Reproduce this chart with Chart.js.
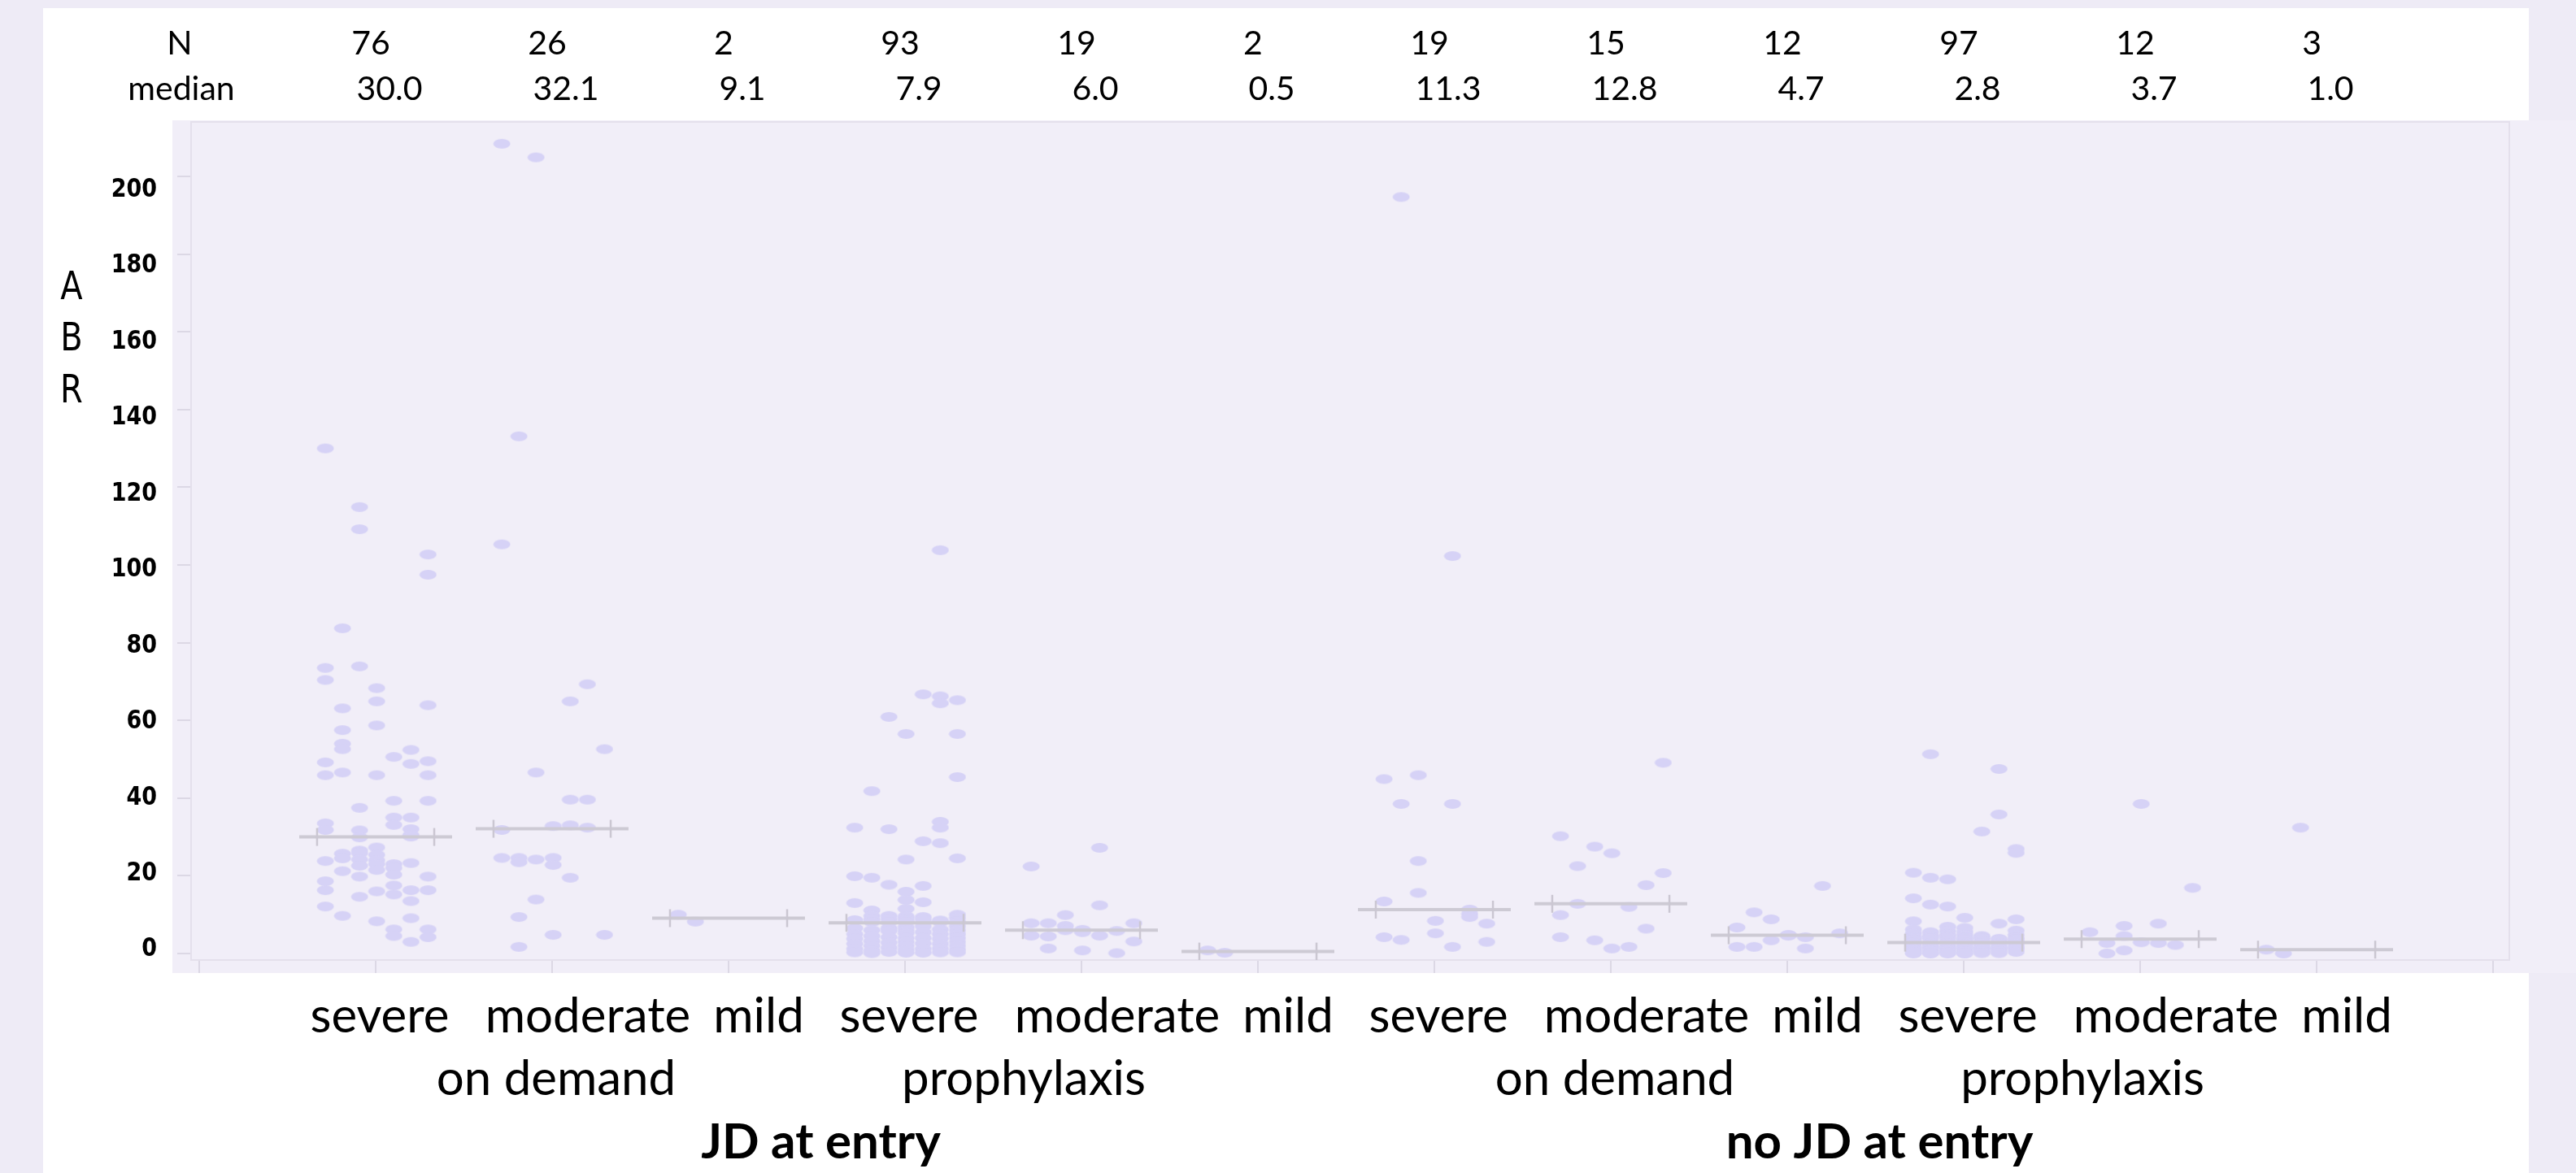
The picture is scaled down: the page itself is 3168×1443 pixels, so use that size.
<!DOCTYPE html>
<html>
<head>
<meta charset="utf-8">
<title>ABR by severity, regimen and JD at entry</title>
<script src="https://cdn.jsdelivr.net/npm/chart.js@4.4.1/dist/chart.umd.min.js"></script>
<style>
  html, body { margin: 0; padding: 0; background: #eeebf6; }
  #wrap { width: 3168px; height: 1443px; position: relative; }
</style>
</head>
<body>
<div id="wrap"><canvas id="abrChart"></canvas></div>
<script>
// category labels
var entryLabels = ['JD at entry', 'no JD at entry'];
var regimenLabels = ['on demand', 'prophylaxis'];
var severityLabels = ['severe', 'moderate', 'mild'];

// header rows
var nPatients = [76, 26, 2, 93, 19, 2, 19, 15, 12, 97, 12, 3];
var medianAbr = [30.0, 32.1, 9.1, 7.9, 6.0, 0.5, 11.3, 12.8, 4.7, 2.8, 3.7, 1.0];

var yTicks = [0, 20, 40, 60, 80, 100, 120, 140, 160, 180, 200];

// ABR values per group, one inner list per jitter column (left to right)
var jdDemandSevere = [
    [130.0, 73.5, 70.4, 49.2, 45.9, 33.5, 31.8, 23.8, 18.6, 16.3, 12.1],
    [83.7, 63.1, 57.5, 54.0, 52.6, 46.6, 25.7, 24.5, 21.2, 9.7],
    [114.9, 109.2, 73.9, 37.5, 31.7, 29.9, 26.5, 25.8, 24.2, 22.6, 19.8, 14.6],
    [68.3, 64.9, 58.7, 45.9, 27.3, 25.4, 24.0, 23.0, 21.5, 16.0, 8.3],
    [50.6, 39.3, 35.0, 33.1, 23.0, 22.0, 20.3, 17.5, 15.2, 6.2, 4.5],
    [52.4, 48.8, 35.0, 32.0, 30.5, 30.1, 23.3, 16.3, 13.5, 9.1, 3.0],
    [102.7, 97.5, 63.9, 49.5, 45.9, 39.3, 19.8, 16.3, 6.2, 4.2]
];
var jdDemandModerate = [
    [208.4, 105.3, 31.8, 24.6],
    [133.1, 24.6, 23.5, 9.4, 1.7],
    [204.9, 46.6, 24.2, 13.9],
    [32.8, 24.6, 22.8, 4.8],
    [64.9, 39.6, 33.0, 19.5],
    [69.3, 39.6, 32.4],
    [52.6, 4.8]
];
var jdDemandMild = [[10.0], [8.2]];
var jdProphSevere = [
    [32.4, 19.9, 13.0, 8.6, 6.5, 5.0, 3.8, 2.5, 1.2, 0.3],
    [41.8, 19.5, 11.1, 9.7, 8.8, 8.1, 6.0, 4.5, 3.2, 2.0, 0.8, 0.1],
    [60.9, 32.0, 17.7, 9.7, 8.9, 8.0, 6.5, 5.8, 4.2, 2.8, 1.5, 0.4],
    [56.5, 24.2, 15.9, 13.8, 11.5, 9.6, 9.0, 8.4, 8.0, 6.8, 6.0, 5.2, 4.0, 3.0, 2.0, 1.0, 0.2],
    [66.7, 28.9, 17.4, 13.2, 9.4, 8.7, 7.0, 5.5, 4.0, 2.6, 1.2, 0.2],
    [103.8, 66.2, 64.4, 33.9, 32.4, 28.4, 8.5, 8.1, 6.2, 5.0, 3.8, 2.5, 1.3, 0.3],
    [65.2, 56.5, 45.4, 24.5, 10.0, 9.2, 8.2, 7.9, 7.0, 6.0, 5.0, 4.0, 3.0, 2.0, 1.0, 0.3]
];
var jdProphModerate = [
    [22.4, 7.8, 4.6],
    [7.8, 4.4, 1.3],
    [9.9, 7.1, 6.0],
    [6.1, 5.5, 0.8],
    [27.2, 12.4, 4.6],
    [5.8, 0.1],
    [7.8, 3.1]
];
var jdProphMild = [[0.8], [0.2]];
var noJdDemandSevere = [
    [44.9, 13.4, 4.2],
    [194.7, 38.5, 3.5],
    [45.9, 23.8, 15.6],
    [8.4, 5.2],
    [102.3, 38.5, 1.7],
    [11.3, 10.2, 9.4],
    [7.7, 3.0]
];
var noJdDemandModerate = [
    [30.2, 9.9, 4.2],
    [22.5, 12.8],
    [27.5, 3.4],
    [25.8, 1.3],
    [12.0, 1.7],
    [17.6, 6.4],
    [49.1, 20.7]
];
var noJdDemandMild = [
    [6.7, 1.7],
    [10.6, 1.7],
    [8.8, 3.4],
    [4.8, 4.6],
    [4.2, 1.3],
    [17.4],
    [5.2]
];
var noJdProphSevere = [
    [20.8, 14.2, 8.3, 6.2, 5.2, 4.3, 3.9, 3.5, 2.8, 2.1, 1.5, 1.2, 0.9, 0.4, 0.0],
    [51.3, 19.5, 12.6, 5.5, 4.6, 4.2, 3.8, 2.7, 2.5, 1.9, 1.6, 1.3, 0.7, 0.2, 0.0],
    [19.1, 12.1, 6.9, 5.8, 4.9, 4.5, 4.1, 3.3, 2.6, 2.0, 1.4, 1.1, 0.8, 0.3, 0.0],
    [9.2, 6.6, 5.6, 4.8, 4.0, 3.7, 3.4, 2.75, 2.4, 1.8, 1.5, 1.2, 0.6, 0.1, 0.0],
    [31.4, 4.5, 4.2, 3.9, 3.2, 2.7, 2.2, 1.6, 1.3, 1.0, 0.5, 0.1],
    [47.5, 35.8, 7.7, 3.8, 3.4, 2.7, 2.4, 1.7, 1.4, 1.1, 0.5, 0.1],
    [26.9, 25.9, 8.8, 5.9, 4.8, 4.0, 3.6, 3.2, 2.5, 1.8, 1.4, 1.1, 0.4]
];
var noJdProphModerate = [
    [5.5],
    [2.7, 0.0],
    [7.1, 4.5, 0.8],
    [38.5, 2.9],
    [7.7, 2.7],
    [2.2],
    [16.9]
];
var noJdProphMild = [[1.0], [0.0], [32.4]];

var groupValues = [
    jdDemandSevere, jdDemandModerate, jdDemandMild,
    jdProphSevere, jdProphModerate, jdProphMild,
    noJdDemandSevere, noJdDemandModerate, noJdDemandMild,
    noJdProphSevere, noJdProphModerate, noJdProphMild
];

// layout, in x-axis units (one slot = one group, ~217 px)
var COL_START = -0.285;
var COL_STEP = 0.097;
var MEDIAN_HALF = 0.433;
var CAP_OFFSET = 0.332;

document.addEventListener('DOMContentLoaded', function () {
    initializeAbrChart();
});

// ellipse marker, the source dots are wider than tall
function makeDot() {
    var c = document.createElement('canvas');
    c.width = 22;
    c.height = 14;
    var g = c.getContext('2d');
    g.fillStyle = '#d6d2f6';
    g.beginPath();
    g.ellipse(11, 7, 10.5, 6, 0, 0, Math.PI * 2);
    g.fill();
    return c;
}

function drawText(ctx, str, x, y, font, align, stretchY) {
    ctx.save();
    ctx.font = font;
    ctx.textAlign = align;
    ctx.textBaseline = 'alphabetic';
    ctx.fillStyle = '#000';
    ctx.translate(x, y);
    ctx.scale(1, stretchY || 1);
    ctx.fillText(str, 0, 0);
    ctx.restore();
}

function initializeAbrChart() {
    var ctx = document.getElementById('abrChart').getContext('2d');

    var points = [];
    var datasets = [];
    var caps = [];

    groupValues.forEach(function (cols, g) {
        var slot = g + 1;
        cols.forEach(function (col, c) {
            col.forEach(function (v) {
                points.push({ x: slot + COL_START + c * COL_STEP, y: v });
            });
        });
        // median line for the group
        datasets.push({
            type: 'scatter',
            showLine: true,
            data: [{ x: slot - MEDIAN_HALF, y: medianAbr[g] }, { x: slot + MEDIAN_HALF, y: medianAbr[g] }],
            borderColor: '#cdcad4',
            borderWidth: 4,
            pointRadius: 0,
            order: 1
        });
        caps.push({ x: slot - CAP_OFFSET, y: medianAbr[g] });
        caps.push({ x: slot + CAP_OFFSET, y: medianAbr[g] });
    });

    datasets.push({
        data: caps,
        pointStyle: 'line',
        rotation: 90,
        pointRadius: 11,
        pointBorderColor: '#cbc7d2',
        pointBorderWidth: 2.5,
        order: 0
    });

    datasets.push({
        data: points,
        pointStyle: makeDot(),
        pointRadius: 6,
        order: 3
    });

    // backgrounds: lavender page, white panel, lavender plot region
    var panels = {
        id: 'panels',
        beforeDraw: function (chart) {
            var c = chart.ctx, a = chart.chartArea;
            c.save();
            c.fillStyle = '#eeebf6';
            c.fillRect(0, 0, chart.width, chart.height);
            c.fillStyle = '#ffffff';
            c.fillRect(53, 10, 3057, chart.height - 10);
            c.fillStyle = '#f1eef8';
            c.fillRect(a.left - 23, a.top - 2, chart.width - a.left + 23, a.bottom - a.top + 18);
            c.restore();
        },
        beforeDatasetsDraw: function (chart) {
            var c = chart.ctx, a = chart.chartArea;
            c.save();
            c.strokeStyle = '#e4e0ec';
            c.lineWidth = 2;
            c.strokeRect(a.left, a.top, a.right - a.left, a.bottom - a.top);
            c.restore();
        },
        afterDraw: function (chart) {
            var c = chart.ctx;
            var x = chart.scales.x, y = chart.scales.y;
            var headFont = '41px Lato';
            var labFont = '60px Lato';

            // N / median header
            drawText(c, 'N', x.getPixelForValue(0) - 24, 67, headFont, 'center');
            drawText(c, 'median', x.getPixelForValue(0) - 22, 123, headFont, 'center');
            for (var g = 0; g < nPatients.length; g++) {
                var px = x.getPixelForValue(g + 1);
                drawText(c, String(nPatients[g]), px - 6, 67, headFont, 'center');
                drawText(c, medianAbr[g].toFixed(1), px + 17, 123, headFont, 'center');
            }

            // y tick labels (the source labels sit on a slightly tighter spacing than the ticks)
            yTicks.forEach(function (v) {
                var ty = y.getPixelForValue(v) - 8 + 21 * v / 200;
                drawText(c, String(v), 193, ty + 11.5, 'bold 27px "DejaVu Sans"', 'right', 1.19);
            });

            // stacked axis title
            drawText(c, 'A', 88, 368, '40px "DejaVu Sans"', 'center', 1.2);
            drawText(c, 'B', 88, 431, '40px "DejaVu Sans"', 'center', 1.2);
            drawText(c, 'R', 88, 495, '40px "DejaVu Sans"', 'center', 1.2);

            // nested x labels
            var levelShift = [5, 44, 37];
            var regimenShift = [5, -71];
            for (var e = 0; e < 2; e++) {
                for (var r = 0; r < 2; r++) {
                    var first = e * 6 + r * 3 + 1;
                    for (var s = 0; s < 3; s++) {
                        drawText(c, severityLabels[s], x.getPixelForValue(first + s) + levelShift[s], 1270, labFont, 'center');
                    }
                    drawText(c, regimenLabels[r], x.getPixelForValue(first + 1) + regimenShift[r], 1347, labFont, 'center');
                }
                drawText(c, entryLabels[e], x.getPixelForValue(e * 6 + 3.5) + 5, 1425, 'bold 60px Lato', 'center');
            }
        }
    };

    new Chart(ctx, {
        type: 'scatter',
        data: { datasets: datasets },
        options: {
            responsive: true,
            maintainAspectRatio: false,
            animation: false,
            events: [],
            layout: { padding: { left: 0, top: 150, right: 82, bottom: 0 } },
            plugins: {
                legend: { display: false },
                tooltip: { enabled: false }
            },
            scales: {
                x: {
                    type: 'linear',
                    min: -0.046,
                    max: 13.092,
                    afterFit: function (scale) { scale.height = 262; },
                    ticks: { display: false, stepSize: 1, includeBounds: false },
                    grid: { drawOnChartArea: false, drawTicks: true, tickLength: 16, color: '#dcd8e5', lineWidth: 2 },
                    border: { display: true, color: '#e2dfea', width: 2 }
                },
                y: {
                    type: 'linear',
                    min: -1.674,
                    max: 214.02,
                    afterFit: function (scale) { scale.width = 235; },
                    ticks: { display: false, stepSize: 20, includeBounds: false },
                    grid: { drawOnChartArea: false, drawTicks: true, tickLength: 17, color: '#dcd8e5', lineWidth: 2 },
                    border: { display: true, color: '#e2dfea', width: 2 }
                }
            }
        },
        plugins: [panels]
    });
}
</script>
</body>
</html>
